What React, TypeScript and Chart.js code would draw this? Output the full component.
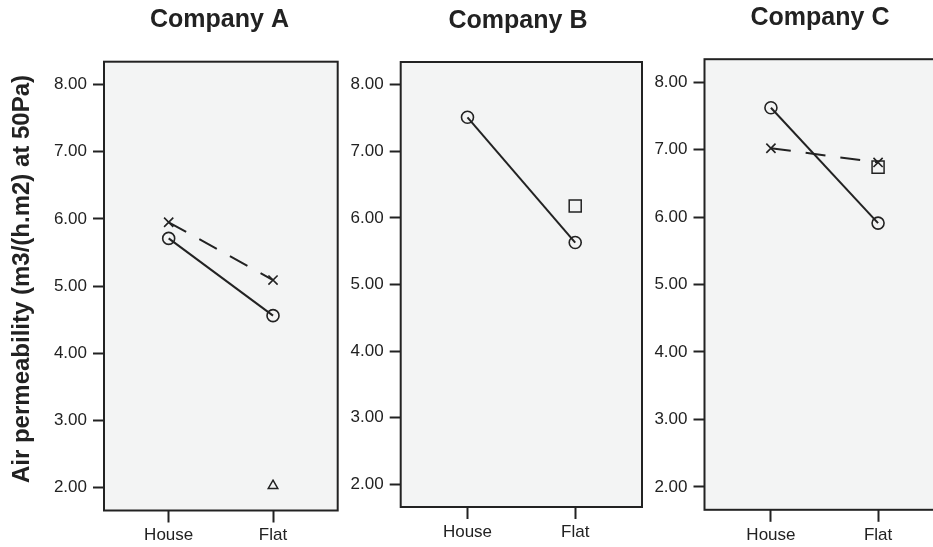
import React, { useEffect, useRef } from 'react';
import { Chart, registerables } from 'chart.js';

Chart.register(...registerables);

// ---------- data ----------
const categories = ['House', 'Flat'];
const yTickValues = [2, 3, 4, 5, 6, 7, 8];
const yAxisTitle = 'Air permeability (m3/(h.m2) at 50Pa)';
const companyTitles = ['Company A', 'Company B', 'Company C'];

const companyASolid = [5.71, 4.56];
const companyADashed = [5.95, 5.09];
const companyATriangle = [null, 2.03];

const companyBSolid = [7.51, 5.63];
const companyBSquare = [null, 6.18];

const companyCSolid = [7.62, 5.91];
const companyCDashed = [7.02, 6.81];
const companyCSquare = [null, 6.74];

// ---------- styling ----------
const INK = '#222222';
const PLOT_BG = '#f3f4f4';
const FONT = '"Liberation Sans", Arial, Helvetica, sans-serif';
const H = 547;

type Box = { l: number; r: number; t: number; b: number };
type PanelCfg = {
  title: string;
  canvasLeft: number;
  canvasWidth: number;
  box: Box;
  titleX: number;
  titleBaseline: number;
  showYTitle: boolean;
  datasets: any[];
};

const toPoints = (vals: (number | null)[]) =>
  vals
    .map((v, i) => (v === null ? null : { x: i, y: v }))
    .filter((p) => p !== null);

const solidSeries = (vals: (number | null)[]) => ({
  data: toPoints(vals),
  borderColor: INK,
  borderWidth: 2,
  showLine: true,
  pointStyle: 'circle',
  pointRadius: 6,
  pointBorderWidth: 1.6,
  pointBorderColor: INK,
  pointBackgroundColor: 'rgba(0,0,0,0)',
});

const dashedSeries = (vals: (number | null)[]) => ({
  data: toPoints(vals),
  borderColor: INK,
  borderWidth: 2,
  borderDash: [20, 15],
  showLine: true,
  pointStyle: 'crossRot',
  pointRadius: 6.5,
  pointBorderWidth: 1.6,
  pointBorderColor: INK,
  pointBackgroundColor: 'rgba(0,0,0,0)',
});

const markerSeries = (vals: (number | null)[], style: string, radius: number) => ({
  data: toPoints(vals),
  showLine: false,
  borderColor: INK,
  pointStyle: style,
  pointRadius: radius,
  pointBorderWidth: 1.5,
  pointBorderColor: INK,
  pointBackgroundColor: 'rgba(0,0,0,0)',
});

const panels: PanelCfg[] = [
  {
    title: companyTitles[0],
    canvasLeft: 0,
    canvasWidth: 360,
    box: { l: 104, r: 337.7, t: 61.7, b: 510.5 },
    titleX: 219.5,
    titleBaseline: 26.7,
    showYTitle: true,
    datasets: [
      solidSeries(companyASolid),
      dashedSeries(companyADashed),
      markerSeries(companyATriangle, 'triangle', 5.5),
    ],
  },
  {
    title: companyTitles[1],
    canvasLeft: 345,
    canvasWidth: 320,
    box: { l: 400.7, r: 642, t: 62, b: 507 },
    titleX: 518,
    titleBaseline: 27.5,
    showYTitle: false,
    datasets: [solidSeries(companyBSolid), markerSeries(companyBSquare, 'rect', 8.5)],
  },
  {
    title: companyTitles[2],
    canvasLeft: 647,
    canvasWidth: 330,
    box: { l: 704.5, r: 944.5, t: 59.2, b: 509.8 },
    titleX: 820,
    titleBaseline: 25,
    showYTitle: false,
    datasets: [
      solidSeries(companyCSolid),
      dashedSeries(companyCDashed),
      markerSeries(companyCSquare, 'rect', 8.5),
    ],
  },
];

function Panel({ cfg }: { cfg: PanelCfg }) {
  const ref = useRef<HTMLCanvasElement | null>(null);

  useEffect(() => {
    if (!ref.current) return;
    const { box, canvasLeft, canvasWidth } = cfg;

    const framePlugin = {
      id: 'frame' + cfg.title.replace(/\s/g, ''),
      beforeDatasetsDraw(chart: any) {
        const { ctx, chartArea } = chart;
        ctx.save();
        ctx.fillStyle = PLOT_BG;
        ctx.fillRect(chartArea.left, chartArea.top, chartArea.right - chartArea.left, chartArea.bottom - chartArea.top);
        ctx.restore();
      },
      afterDraw(chart: any) {
        const { ctx, chartArea } = chart;
        ctx.save();
        ctx.strokeStyle = INK;
        ctx.lineWidth = 2;
        ctx.strokeRect(chartArea.left, chartArea.top, chartArea.right - chartArea.left, chartArea.bottom - chartArea.top);
        // panel title
        ctx.fillStyle = INK;
        ctx.font = `bold 25px ${FONT}`;
        ctx.textAlign = 'center';
        ctx.textBaseline = 'alphabetic';
        ctx.fillText(cfg.title, cfg.titleX - canvasLeft, cfg.titleBaseline);
        // y axis title
        if (cfg.showYTitle) {
          ctx.translate(22.5, 279);
          ctx.rotate(-Math.PI / 2);
          ctx.font = `bold 24px ${FONT}`;
          ctx.textAlign = 'center';
          ctx.textBaseline = 'middle';
          ctx.fillText(yAxisTitle, 0, 0);
        }
        ctx.restore();
      },
    };

    const chart = new Chart(ref.current, {
      type: 'line',
      data: { datasets: cfg.datasets },
      plugins: [framePlugin],
      options: {
        animation: false,
        responsive: false,
        devicePixelRatio: 1,
        events: [],
        layout: {
          padding: {
            left: 0,
            top: box.t,
            right: canvasWidth - (box.r - canvasLeft),
            bottom: 0,
          },
        },
        plugins: {
          legend: { display: false },
          title: { display: false },
          tooltip: { enabled: false },
        },
        scales: {
          x: {
            type: 'linear',
            min: -0.62,
            max: 1.62,
            afterBuildTicks: (scale: any) => {
              scale.ticks = categories.map((_, i) => ({ value: i }));
            },
            afterFit: (scale: any) => {
              scale.height = H - box.b;
            },
            ticks: {
              color: INK,
              font: { family: FONT, size: 17 },
              padding: 3,
              maxRotation: 0,
              autoSkip: false,
              callback: (v: any) => categories[Math.round(Number(v))],
            },
            grid: {
              display: true,
              drawOnChartArea: false,
              drawTicks: true,
              tickLength: 12,
              tickWidth: 2,
              tickColor: INK,
            },
            border: { display: false },
          },
          y: {
            type: 'linear',
            min: 1.66,
            max: 8.34,
            afterBuildTicks: (scale: any) => {
              scale.ticks = yTickValues.map((v) => ({ value: v }));
            },
            afterFit: (scale: any) => {
              scale.width = box.l - canvasLeft;
            },
            ticks: {
              color: INK,
              font: { family: FONT, size: 17 },
              padding: 6,
              callback: (v: any) => Number(v).toFixed(2),
            },
            grid: {
              display: true,
              drawOnChartArea: false,
              drawTicks: true,
              tickLength: 11,
              tickWidth: 2,
              tickColor: INK,
            },
            border: { display: false },
          },
        },
      } as any,
    });
    return () => chart.destroy();
  }, [cfg]);

  return (
    <div
      style={{
        position: 'absolute',
        left: cfg.canvasLeft,
        top: 0,
        width: cfg.canvasWidth,
        height: H,
      }}
    >
      <canvas
        ref={ref}
        width={cfg.canvasWidth}
        height={H}
        style={{ width: cfg.canvasWidth, height: H, display: 'block' }}
      />
    </div>
  );
}

export default function App() {
  return (
    <div
      style={{
        position: 'absolute',
        left: 0,
        top: 0,
        width: 933,
        height: H,
        overflow: 'hidden',
        background: '#ffffff',
      }}
    >
      {panels.map((p) => (
        <Panel key={p.title} cfg={p} />
      ))}
    </div>
  );
}
